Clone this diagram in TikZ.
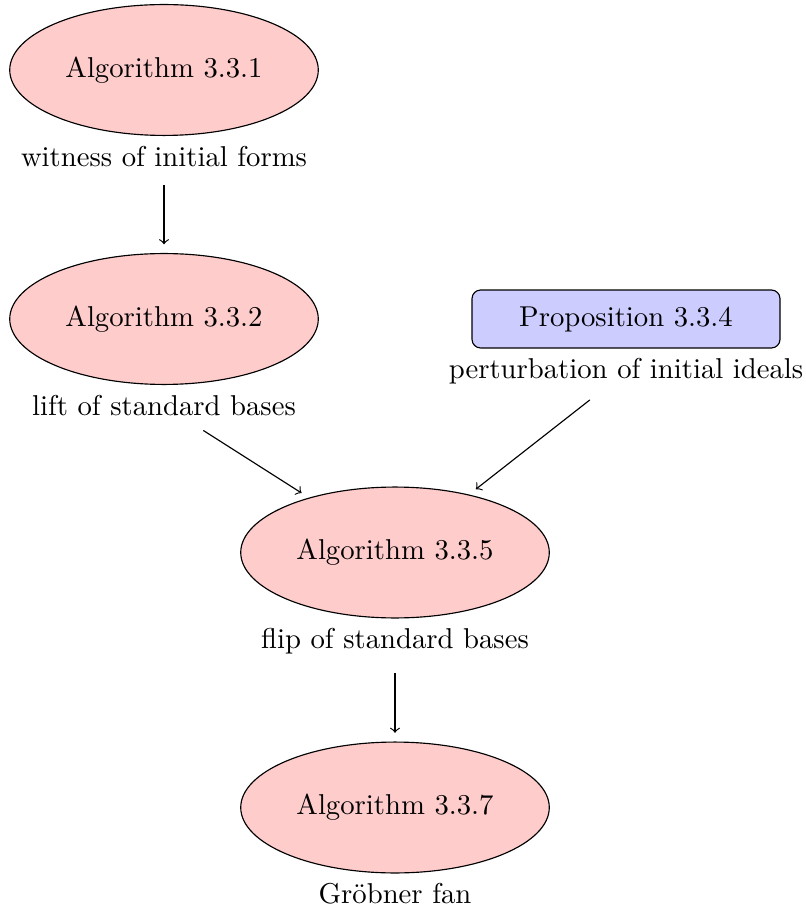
\documentclass[tikz,border=0pt]{standalone}
\usetikzlibrary{shapes.geometric}
\begin{document}
\begin{tikzpicture}[x=0.3484pt,y=-0.3484pt,
  algo/.style={ellipse,draw,fill=red!20,minimum width=107.5pt,minimum height=45.6pt},
  prop/.style={rectangle,rounded corners=3pt,draw,fill=blue!20,minimum width=107.3pt,minimum height=20.2pt},
  note/.style={inner sep=3.33pt,anchor=north},
  link/.style={->,shorten <=3pt,shorten >=3pt}]
\useasboundingbox (0,0) rectangle (806,913);

% algorithms and the proposition
\node[algo] (a1) at (164,70) {Algorithm 3.3.1};
\node[algo] (a2) at (164,319) {Algorithm 3.3.2};
\node[prop] (p4) at (626,319) {Proposition 3.3.4};
\node[algo] (a3) at (395,552.5) {Algorithm 3.3.5};
\node[algo] (a4) at (395,807.5) {Algorithm 3.3.7};

% descriptions below each block
\node[note] (d1) at (a1.south) {witness of initial forms};
\node[note] (d2) at (a2.south) {lift of standard bases};
\node[note] (d4) at (p4.south) {perturbation of initial ideals};
\node[note] (d3) at (a3.south) {flip of standard bases};
\node[note] (d5) at (a4.south) {Gröbner fan};

% dependencies
\draw[link] (d1) -- (a2);
\draw[link] (d2) -- (a3);
\draw[link] (d4) -- (a3);
\draw[link] (d3) -- (a4);
\end{tikzpicture}
\end{document}
